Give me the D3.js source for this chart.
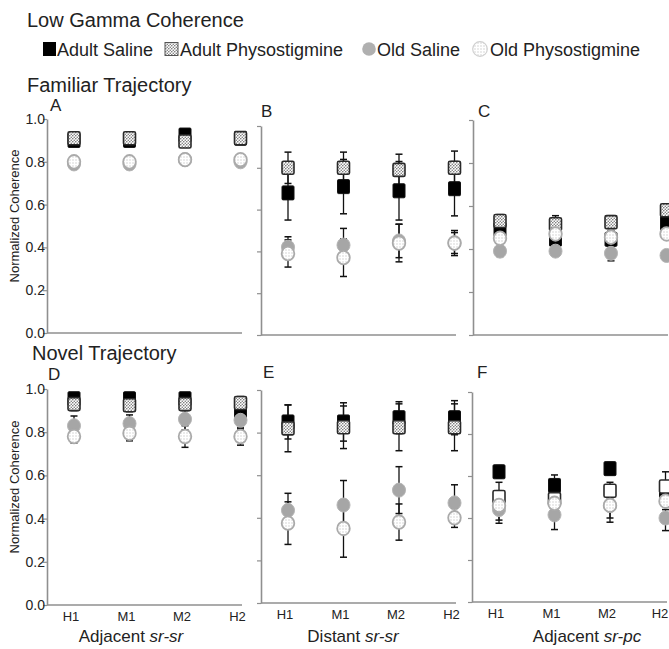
<!DOCTYPE html>
<html>
<head>
<meta charset="utf-8">
<script src="https://cdn.jsdelivr.net/npm/d3@7"></script>
<style>
  body { margin: 0; background: #fff; }
  svg { display: block; font-family: "Liberation Sans", Arial, Helvetica, sans-serif; }
</style>
</head>
<body>
<svg id="chart" width="669" height="649"></svg>
<script>
/* ── Data ─────────────────────────────────────────────────── */
const positions = ['H1', 'M1', 'M2', 'H2'];
const seriesNames = ['Adult Saline', 'Adult Physostigmine', 'Old Saline', 'Old Physostigmine'];
const panelLetters = ['A', 'B', 'C', 'D', 'E', 'F'];
const rowTitles = ['Familiar Trajectory', 'Novel Trajectory'];
const regionNames = ['Adjacent ', 'Distant ', 'Adjacent '];
const regionLayers = ['sr-sr', 'sr-sr', 'sr-pc'];
const yTicks = [0, 0.2, 0.4, 0.6, 0.8, 1.0];

// one row per panel (A..F), one value per position (H1, M1, M2, H2)
const adultSaline = [
  [0.90, 0.90, 0.925, 0.91],
  [0.68, 0.71, 0.69, 0.70],
  [0.49, 0.445, 0.445, 0.52],
  [0.955, 0.955, 0.955, 0.885],
  [0.85, 0.85, 0.87, 0.87],
  [0.62, 0.555, 0.635, 0.53],
];
const adultSalineErr = [
  [0.01, 0.01, 0.01, 0.01],
  [0.13, 0.13, 0.14, 0.13],
  [0.04, 0.04, 0.04, 0.04],
  [0.02, 0.02, 0.02, 0.02],
  [0.08, 0.09, 0.075, 0.08],
  [0.03, 0.05, 0.03, 0.03],
];
const adultPhyso = [
  [0.91, 0.91, 0.895, 0.91],
  [0.80, 0.80, 0.79, 0.80],
  [0.53, 0.515, 0.525, 0.58],
  [0.93, 0.925, 0.93, 0.935],
  [0.82, 0.825, 0.825, 0.825],
  [0.50, 0.49, 0.53, 0.55],
];
const adultPhysoErr = [
  [0.01, 0.01, 0.01, 0.01],
  [0.075, 0.075, 0.075, 0.08],
  [0.03, 0.04, 0.03, 0.02],
  [0.03, 0.03, 0.03, 0.03],
  [0.11, 0.10, 0.11, 0.11],
  [0.07, 0.04, 0.04, 0.07],
];
const oldSaline = [
  [0.79, 0.79, 0.81, 0.80],
  [0.42, 0.43, 0.45, 0.44],
  [0.39, 0.39, 0.38, 0.37],
  [0.83, 0.84, 0.86, 0.855],
  [0.435, 0.46, 0.53, 0.47],
  [0.44, 0.415, 0.46, 0.40],
];
const oldSalineErr = [
  [0.025, 0.025, 0.015, 0.02],
  [0.05, 0.08, 0.08, 0.06],
  [0.025, 0.02, 0.035, 0.02],
  [0.045, 0.04, 0.05, 0.04],
  [0.08, 0.115, 0.11, 0.085],
  [0.065, 0.07, 0.08, 0.06],
];
const oldPhyso = [
  [0.80, 0.80, 0.81, 0.81],
  [0.39, 0.37, 0.44, 0.44],
  [0.45, 0.47, 0.455, 0.47],
  [0.78, 0.795, 0.78, 0.78],
  [0.375, 0.35, 0.38, 0.40],
  [0.46, 0.47, 0.46, 0.48],
];
const oldPhysoErr = [
  [0.015, 0.015, 0.015, 0.015],
  [0.065, 0.09, 0.09, 0.05],
  [0.02, 0.02, 0.02, 0.02],
  [0.03, 0.035, 0.05, 0.04],
  [0.10, 0.135, 0.085, 0.045],
  [0.07, 0.05, 0.06, 0.04],
];

/* ── Layout ───────────────────────────────────────────────── */
const FONT_DARK = '#222';
const AXIS_GREY = '#8f8f8f';
const PANELS = [
  { x0: 47,  top: 119, bottom: 333, lx: 50,  ly: 111 },
  { x0: 261, top: 126, bottom: 335, lx: 261, ly: 117 },
  { x0: 473, top: 120, bottom: 335, lx: 478, ly: 117 },
  { x0: 47,  top: 389, bottom: 605, lx: 48,  ly: 380 },
  { x0: 261, top: 390, bottom: 603, lx: 263, ly: 378 },
  { x0: 472, top: 392, bottom: 602, lx: 477, ly: 378 },
];
const REGION_X = [131, 353, 587];

const svg = d3.select('#chart');
const defs = svg.append('defs');

// dotted fill for Adult Physostigmine squares
const pDots = defs.append('pattern')
  .attr('id', 'dotsDark').attr('patternUnits', 'userSpaceOnUse')
  .attr('width', 3).attr('height', 3);
pDots.append('rect').attr('width', 3).attr('height', 3).attr('fill', '#fff');
pDots.append('circle').attr('cx', 0.8).attr('cy', 0.8).attr('r', 0.8).attr('fill', '#666');
pDots.append('circle').attr('cx', 2.3).attr('cy', 2.3).attr('r', 0.8).attr('fill', '#888');

// pale dotted fill for Old Physostigmine circles
const pLight = defs.append('pattern')
  .attr('id', 'dotsLight').attr('patternUnits', 'userSpaceOnUse')
  .attr('width', 3).attr('height', 3);
pLight.append('rect').attr('width', 3).attr('height', 3).attr('fill', '#fff');
pLight.append('circle').attr('cx', 1).attr('cy', 1).attr('r', 0.75).attr('fill', '#cfcfcf');

/* ── Marker drawing ──────────────────────────────────────── */
function drawMarker(g, kind, x, y, plainPhyso) {
  if (kind === 0) {
    g.append('rect').attr('x', x - 6).attr('y', y - 7).attr('width', 12).attr('height', 14)
      .attr('rx', 1).attr('fill', '#000').attr('stroke', '#111').attr('stroke-width', 1);
  } else if (kind === 1) {
    g.append('rect').attr('x', x - 6).attr('y', y - 6.5).attr('width', 12).attr('height', 13)
      .attr('rx', 1.5)
      .attr('fill', plainPhyso ? '#fff' : 'url(#dotsDark)')
      .attr('stroke', '#2a2a2a').attr('stroke-width', 1.6);
  } else if (kind === 2) {
    g.append('ellipse').attr('cx', x).attr('cy', y).attr('rx', 6.5).attr('ry', 7)
      .attr('fill', '#a6a6a6').attr('stroke', '#b4b4b4').attr('stroke-width', 1);
  } else {
    g.append('ellipse').attr('cx', x).attr('cy', y).attr('rx', 6.3).attr('ry', 6.8)
      .attr('fill', 'url(#dotsLight)').attr('stroke', '#aaaaaa').attr('stroke-width', 1.8);
  }
}

/* ── Titles and legend ───────────────────────────────────── */
svg.append('text').attr('x', 27).attr('y', 27)
  .attr('font-size', 20).attr('fill', FONT_DARK).text('Low Gamma Coherence');

const legendSwatchX = [49.5, 171.5, 369, 480];
const legendTextX = [57, 180, 377, 490];
seriesNames.forEach((name, i) => {
  const lg = svg.append('g');
  if (i === 0) {
    lg.append('rect').attr('x', legendSwatchX[i] - 6.5).attr('y', 42).attr('width', 13).attr('height', 14).attr('fill', '#000');
  } else if (i === 1) {
    lg.append('rect').attr('x', legendSwatchX[i] - 6.5).attr('y', 42.5).attr('width', 13).attr('height', 13)
      .attr('fill', 'url(#dotsDark)').attr('stroke', '#555').attr('stroke-width', 1);
  } else if (i === 2) {
    lg.append('circle').attr('cx', legendSwatchX[i]).attr('cy', 49).attr('r', 6.8).attr('fill', '#b0b0b0');
  } else {
    lg.append('circle').attr('cx', legendSwatchX[i]).attr('cy', 49).attr('r', 7.3)
      .attr('fill', 'url(#dotsLight)').attr('stroke', '#d0d0d0').attr('stroke-width', 1.2);
  }
  lg.append('text').attr('x', legendTextX[i]).attr('y', 56)
    .attr('font-size', 18).attr('fill', FONT_DARK).text(name);
});

svg.append('text').attr('x', 27).attr('y', 92)
  .attr('font-size', 20).attr('fill', FONT_DARK).text(rowTitles[0]);
svg.append('text').attr('x', 32).attr('y', 360)
  .attr('font-size', 20).attr('fill', FONT_DARK).text(rowTitles[1]);

/* ── Panels ──────────────────────────────────────────────── */
const means = [adultSaline, adultPhyso, oldSaline, oldPhyso];
const errs = [adultSalineErr, adultPhysoErr, oldSalineErr, oldPhysoErr];

PANELS.forEach((p, pi) => {
  const g = svg.append('g');
  const col = pi % 3;
  const bottomRow = pi >= 3;

  const x = d3.scalePoint().domain(positions).range([p.x0 + 27, p.x0 + 193.5]);
  const y = d3.scaleLinear().domain([0, 1]).range([p.bottom, p.top]);

  // y axis
  const yAxis = d3.axisLeft(y).tickValues(yTicks).tickSize(4).tickSizeOuter(0)
    .tickFormat(col === 0 ? d3.format('.1f') : () => '');
  const ya = g.append('g').attr('transform', `translate(${p.x0},0)`).call(yAxis);
  ya.select('.domain').attr('stroke', AXIS_GREY).attr('stroke-width', 1.6);
  ya.selectAll('.tick line').attr('stroke', AXIS_GREY).attr('stroke-width', 1.2);
  ya.selectAll('.tick text').attr('font-size', 14).attr('fill', FONT_DARK)
    .attr('font-family', '"Liberation Sans", Arial, sans-serif').attr('x', -2);

  // x axis line
  g.append('line')
    .attr('x1', p.x0).attr('x2', p.x0 + 195)
    .attr('y1', p.bottom).attr('y2', p.bottom)
    .attr('stroke', AXIS_GREY).attr('stroke-width', 1.6);

  if (bottomRow) {
    g.selectAll('text.pos').data(positions).enter().append('text')
      .attr('class', 'pos')
      .attr('x', d => Math.min(x(d) - 3, 660)).attr('y', p.bottom + 16)
      .attr('text-anchor', 'middle').attr('font-size', 13).attr('fill', FONT_DARK)
      .text(d => d);
    const t = g.append('text').attr('x', REGION_X[col]).attr('y', 642)
      .attr('text-anchor', 'middle').attr('font-size', 17).attr('fill', FONT_DARK);
    t.append('tspan').text(regionNames[col]);
    t.append('tspan').attr('font-style', 'italic').text(regionLayers[col]);
  }

  if (col === 0) {
    const cy = (p.top + p.bottom) / 2 - 10;
    g.append('text')
      .attr('transform', `translate(18.5,${cy}) rotate(-90)`)
      .attr('text-anchor', 'middle').attr('font-size', 13).attr('fill', FONT_DARK)
      .text('Normalized Coherence');
  }

  g.append('text').attr('x', p.lx).attr('y', p.ly)
    .attr('font-size', 17).attr('fill', FONT_DARK).text(panelLetters[pi]);

  // error bars first, markers on top
  const eg = g.append('g');
  means.forEach((m, si) => {
    positions.forEach((pos, k) => {
      const v = m[pi][k], e = errs[si][pi][k];
      const cx = x(pos);
      const y1 = y(v + e), y2 = y(v - e);
      eg.append('line').attr('x1', cx).attr('x2', cx).attr('y1', y1).attr('y2', y2)
        .attr('stroke', '#111').attr('stroke-width', 1.3);
      [y1, y2].forEach(yy => {
        eg.append('line').attr('x1', cx - 3.5).attr('x2', cx + 3.5).attr('y1', yy).attr('y2', yy)
          .attr('stroke', '#111').attr('stroke-width', 1.5);
      });
    });
  });

  const mg = g.append('g');
  means.forEach((m, si) => {
    positions.forEach((pos, k) => {
      drawMarker(mg, si, x(pos), y(m[pi][k]), pi === 5);
    });
  });
});
</script>
</body>
</html>
